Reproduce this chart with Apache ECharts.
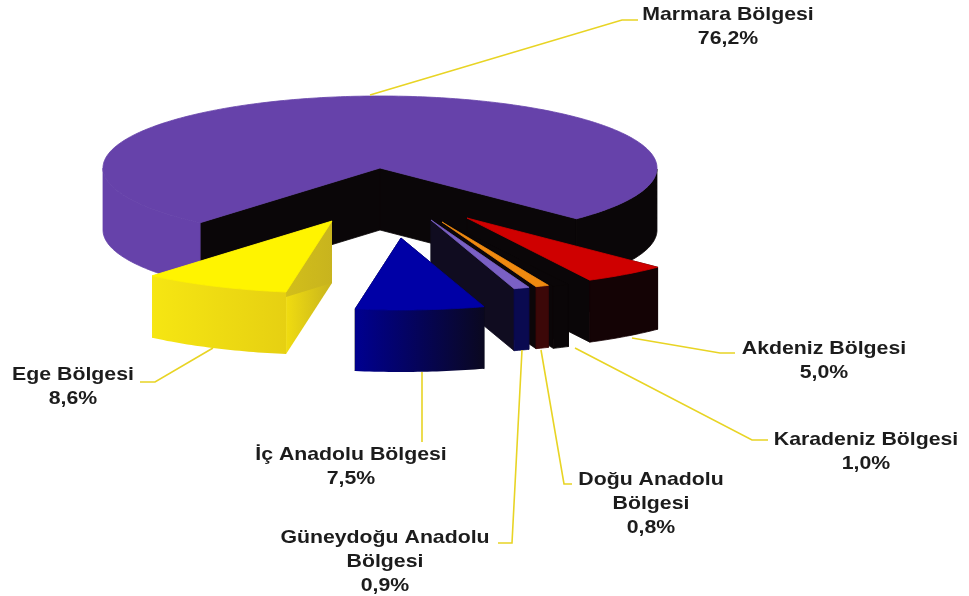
<!DOCTYPE html>
<html><head><meta charset="utf-8">
<script src="https://cdn.jsdelivr.net/npm/echarts@6/dist/echarts.min.js"></script>
<style>html,body{margin:0;padding:0;background:#fff}#c{width:969px;height:596px}</style>
</head><body><div id="c"></div>
<script>
// Data, in clockwise order starting from the Ege slice
const regions = ['Ege Bölgesi','İç Anadolu Bölgesi','Güneydoğu Anadolu\nBölgesi','Doğu Anadolu\nBölgesi','Karadeniz Bölgesi','Akdeniz Bölgesi','Marmara Bölgesi'];
const shares = [8.6, 7.5, 0.9, 0.8, 1.0, 5.0, 76.2];

// Layout (pixels), separate from the data
const startAngle = 130.5, RX = 277, RY = 72, DEPTH = 62;
const apexX = [332,401,431,442,447,467,380];
const apexY = [221,238,220,222,223,218,168];
const radiusScale = [1,1,1,0.96,0.96,0.97,1];
const drawOrder = [6,5,4,3,2,1,0];
const labelX = [73,351,385,651,866,824,728];
const labelY = [375,455,538,480,440,349,15];
const leaders = [
  [[213,348],[155,382],[140,382]],
  [[422,372],[422,442]],
  [[522,350],[512,543],[498,543]],
  [[541,350],[564,484],[572,484]],
  [[575,348],[752,440],[768,440]],
  [[632,338],[720,353],[735,353]],
  [[370,95],[622,20],[638,20]]
];
function grad(a,b){return {type:'linear',x:0,y:0,x2:1,y2:0,colorStops:[{offset:0,color:a},{offset:1,color:b}]};}
const BLACK = '#0a0608';
const topColors = ['#fff400','#0000a6','#7a60c4','#f08a10',BLACK,'#cf0000','#6642aa'];
const cutColors = [grad('#f0dc10','#c8b41e'),'#0a0a1c','#100c20','#0c0608',BLACK,BLACK,BLACK];
const outerLeft = [grad('#f6e612','#e6d012'),grad('#000090','#0a0820'),'#0a0a50','#3c0808',BLACK,'#140305','#6642aa'];
const outerRight = [grad('#f6e612','#e6d012'),grad('#000090','#0a0820'),'#0a0a50','#3c0808',BLACK,'#140305',BLACK];

// Angular extents come from the shares
const ranges = [];
shares.reduce(function(a,s){const b=a-s*3.6;ranges.push([a,b]);return b;},startAngle);

function fmt(v){return v.toFixed(1).replace('.',',')+'%';}
function poly(points,fill){
  const solid = typeof fill === 'string';
  return {type:'polygon',shape:{points:points},style:{fill:fill,stroke:solid?fill:null,lineWidth:solid?0.8:0}};
}

function renderSlice(params,api){
  const i = api.value(0);
  const [a,b] = ranges[i];
  const ax = apexX[i], ay = apexY[i], k = radiusScale[i];
  const pt = function(t){const r=t*Math.PI/180;return [ax+RX*k*Math.cos(r),ay+RY*k*Math.sin(r)];};
  const down = function(p){return [p[0],p[1]+DEPTH];};
  const arc = [];
  for(let t=a;t>b;t-=1){arc.push(t);} arc.push(b);
  const children = [];
  [b,a].forEach(function(t){
    const p=pt(t);
    children.push(poly([[ax,ay],p,down(p),[ax,ay+DEPTH]],cutColors[i]));
  });
  let run=[];
  const flush=function(){
    if(run.length>1){
      const top=run.map(pt), bot=top.map(down).reverse();
      const mean=Math.cos(run[Math.floor(run.length/2)]*Math.PI/180);
      children.push(poly(top.concat(bot),mean<0?outerLeft[i]:outerRight[i]));
    }
    run=[];
  };
  arc.forEach(function(t){
    if(Math.sin(t*Math.PI/180)>=-0.001){run.push(t);} else {flush();}
  });
  flush();
  children.push(poly([[ax,ay]].concat(arc.map(pt)),topColors[i]));
  children.push({type:'polyline',shape:{points:leaders[i]},style:{stroke:'#e8d424',lineWidth:1.6,fill:null}});
  children.push({type:'text',x:labelX[i],y:labelY[i]-12,scaleX:1.12,style:{
    text:regions[i]+'\n'+fmt(shares[i]),
    font:'bold 19px "Liberation Sans", Arial, sans-serif',
    fill:'#1c1c1c',align:'center',verticalAlign:'top',lineHeight:24
  }});
  return {type:'group',children:children};
}

const chart = echarts.init(document.getElementById('c'),null,{renderer:'canvas'});
chart.setOption({
  animation:false,
  backgroundColor:'#ffffff',
  series:[{
    type:'custom',
    coordinateSystem:'none',
    silent:true,
    renderItem:renderSlice,
    data:drawOrder.map(function(i){return [i,shares[i]];})
  }]
});
</script></body></html>
